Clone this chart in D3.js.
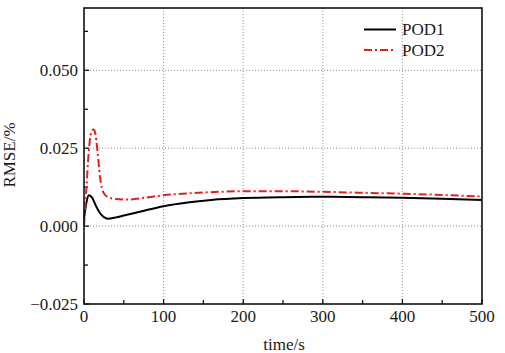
<!DOCTYPE html>
<html><head><meta charset="utf-8">
<script src="https://cdn.jsdelivr.net/npm/d3@7"></script>
<style>body{margin:0;background:#fff}svg{display:block}text{font-family:"Liberation Serif","Times New Roman",serif;fill:#1a1a1a}</style>
</head><body><svg id="c" width="505" height="353"></svg>
<script>
const time1 = [0, 3, 6, 10, 15, 20, 25, 30, 40, 50, 70, 100, 130, 160, 200, 250, 300, 350, 400, 450, 500];
const pod1 = [0.0025, 0.0075, 0.0099, 0.0092, 0.0065, 0.0042, 0.0029, 0.0024, 0.0028, 0.0034, 0.0046, 0.0064, 0.0076, 0.0084, 0.0090, 0.0093, 0.0094, 0.0093, 0.0091, 0.0088, 0.0084];
const time2 = [0, 3, 6, 9, 12, 14, 17, 20, 25, 30, 40, 55, 70, 100, 130, 160, 200, 250, 300, 350, 400, 450, 500];
const pod2 = [0.000, 0.012, 0.024, 0.030, 0.031, 0.030, 0.024, 0.016, 0.0105, 0.0093, 0.0087, 0.0085, 0.0089, 0.0099, 0.0105, 0.0109, 0.0112, 0.0112, 0.0110, 0.0107, 0.0104, 0.0100, 0.0095];
const xTicks = [0, 100, 200, 300, 400, 500];
const xMinor = [50, 150, 250, 350, 450];
const yTicks = [-0.025, 0, 0.025, 0.05];
const yMinor = [-0.0125, 0.0125, 0.0375, 0.0625];
const seriesNames = ["POD1", "POD2"];

const svg = d3.select("#c");
const L = 84, R = 482, T = 8, B = 304;
const FS = 17;
const x = d3.scaleLinear().domain([0, 500]).range([L, R]);
const y = d3.scaleLinear().domain([-0.025, 0.07]).range([B, T]);

// grid
const g = svg.append("g");
g.selectAll(".gx").data(xTicks.slice(1, -1)).enter().append("line")
  .attr("x1", d => x(d)).attr("x2", d => x(d)).attr("y1", T).attr("y2", B)
  .attr("stroke", "#999").attr("stroke-width", 1).attr("stroke-dasharray", "1,2");
g.selectAll(".gy").data(yTicks.slice(1)).enter().append("line")
  .attr("x1", L).attr("x2", R).attr("y1", d => y(d)).attr("y2", d => y(d))
  .attr("stroke", "#888").attr("stroke-width", 1).attr("stroke-dasharray", "1,2");

// ticks (inside)
svg.selectAll(".tx").data(xTicks.concat(xMinor)).enter().append("line")
  .attr("x1", d => x(d)).attr("x2", d => x(d)).attr("y1", B).attr("y2", d => B - (xMinor.includes(d) ? 4 : 5))
  .attr("stroke", "#111").attr("stroke-width", 1.3);
svg.selectAll(".ty").data(yTicks.concat(yMinor)).enter().append("line")
  .attr("x1", L).attr("x2", d => L + (yMinor.includes(d) ? 4 : 5)).attr("y1", d => y(d)).attr("y2", d => y(d))
  .attr("stroke", "#111").attr("stroke-width", 1.3);

// tick labels
svg.selectAll(".lx").data(xTicks).enter().append("text")
  .attr("x", d => x(d)).attr("y", 322).attr("text-anchor", "middle").attr("font-size", FS)
  .text(d => d);
const fmt = d3.format(".3f");
svg.selectAll(".ly").data(yTicks).enter().append("text")
  .attr("x", 78).attr("y", d => y(d) + 6).attr("text-anchor", "end").attr("font-size", FS)
  .text(d => d < 0 ? "\u2212" + fmt(-d) : fmt(d));

// axis titles
svg.append("text").attr("x", 284).attr("y", 350).attr("text-anchor", "middle").attr("font-size", FS).text("time/s");
svg.append("text").attr("transform", "translate(15,155) rotate(-90)").attr("text-anchor", "middle").attr("font-size", FS).text("RMSE/%");

// lines
const line = d3.line().x(d => x(d[0])).y(d => y(d[1])).curve(d3.curveMonotoneX);
svg.append("path").datum(time1.map((t, i) => [t, pod1[i]])).attr("d", line)
  .attr("fill", "none").attr("stroke", "#000").attr("stroke-width", 2);
svg.append("path").datum(time2.map((t, i) => [t, pod2[i]])).attr("d", line)
  .attr("fill", "none").attr("stroke", "#e4201c").attr("stroke-width", 2).attr("stroke-dasharray", "8,3,2,3");

// frame
svg.append("rect").attr("x", L).attr("y", T).attr("width", R - L).attr("height", B - T)
  .attr("fill", "none").attr("stroke", "#111").attr("stroke-width", 1.6);

// legend
const leg = [{n: seriesNames[0], c: "#000", da: null, yy: 29.5}, {n: seriesNames[1], c: "#e4201c", da: "8,3,2,3", yy: 50}];
leg.forEach(d => {
  svg.append("line").attr("x1", 364).attr("x2", 396).attr("y1", d.yy).attr("y2", d.yy)
    .attr("stroke", d.c).attr("stroke-width", 2).attr("stroke-dasharray", d.da);
  svg.append("text").attr("x", 402).attr("y", d.yy + 5.5).attr("font-size", FS).text(d.n);
});
</script></body></html>
